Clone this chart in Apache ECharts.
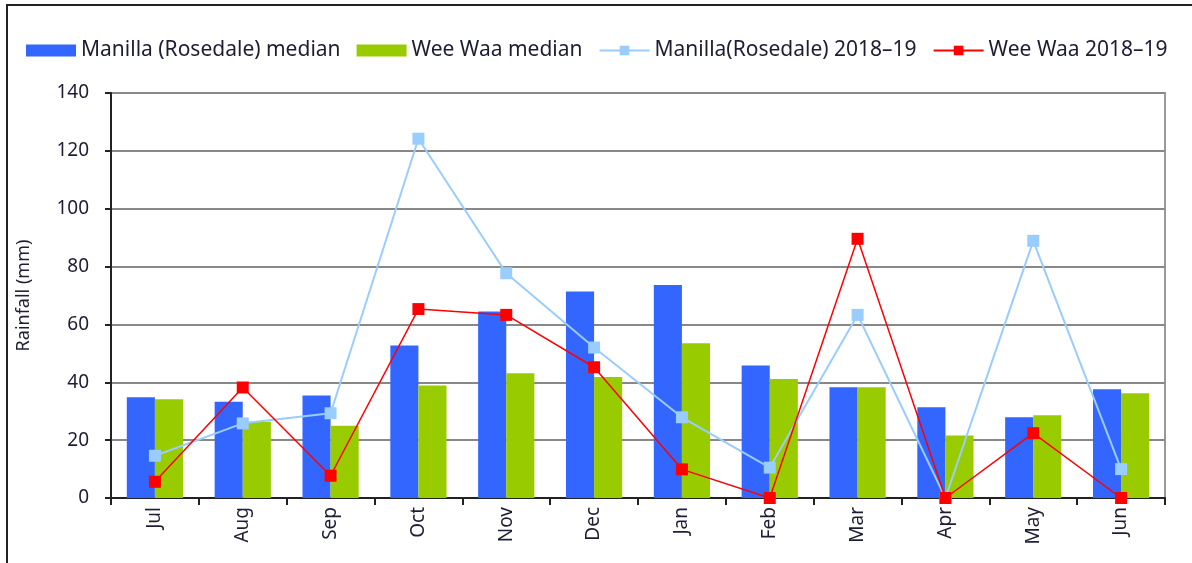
<!DOCTYPE html>
<html>
<head>
<meta charset="utf-8">
<script src="https://cdn.jsdelivr.net/npm/echarts@6/dist/echarts.min.js"></script>
<style>
  html, body { margin: 0; padding: 0; background: #fff; }
  #frame {
    position: absolute; left: 6px; top: 4px; width: 1200px; height: 600px;
    border-left: 2px solid #222; border-top: 2px solid #222;
  }
  #myChart { position: absolute; left: 0; top: 0; width: 1192px; height: 563px; }
</style>
</head>
<body>
<div id="frame"></div>
<div id="myChart"></div>
<script>
  // months of the season
  var months = ['Jul', 'Aug', 'Sep', 'Oct', 'Nov', 'Dec', 'Jan', 'Feb', 'Mar', 'Apr', 'May', 'Jun'];
  // long-term medians (mm)
  var manillaMedian = [34.8, 33.3, 35.4, 52.7, 64.5, 71.4, 73.6, 45.8, 38.3, 31.4, 27.9, 37.6];
  var weeWaaMedian = [34.1, 26.4, 25.0, 38.9, 43.1, 41.8, 53.5, 41.1, 38.3, 21.6, 28.6, 36.2];
  // 2018-19 season (mm)
  var manilla1819 = [14.6, 25.8, 29.3, 124.2, 77.7, 52.0, 27.9, 10.5, 63.3, 0, 88.9, 10.0];
  var weeWaa1819 = [5.6, 38.2, 7.7, 65.3, 63.3, 45.2, 9.9, 0, 89.6, 0, 22.4, 0];

  var font = 'Noto Sans';
  var textColor = '#1d1d33';

  var myChart = echarts.init(document.getElementById('myChart'));
  var option = {
    animation: false,
    textStyle: { fontFamily: font },
    legend: {
      left: 21,
      top: 35,
      itemWidth: 50,
      itemHeight: 12,
      itemGap: 16,
      textStyle: { fontSize: 21, color: textColor, fontFamily: font },
      data: [
        { name: 'Manilla (Rosedale) median', icon: 'rect' },
        { name: 'Wee Waa median', icon: 'rect' },
        { name: 'Manilla(Rosedale) 2018\u201319' },
        { name: 'Wee Waa 2018\u201319' }
      ]
    },
    grid: {
      left: 111,
      right: 27,
      top: 93,
      bottom: 65,
      show: true,
      borderColor: '#999',
      borderWidth: 2,
      containLabel: false
    },
    xAxis: {
      type: 'category',
      data: months,
      boundaryGap: true,
      axisLine: { lineStyle: { color: '#222', width: 2 } },
      axisTick: { show: true, length: 7, lineStyle: { color: '#222', width: 2 } },
      axisLabel: { rotate: 90, margin: 9, fontSize: 19, color: textColor, fontFamily: font },
      splitLine: { show: false }
    },
    yAxis: {
      type: 'value',
      min: 0,
      max: 140,
      interval: 20,
      name: 'Rainfall (mm)',
      nameLocation: 'middle',
      nameRotate: 90,
      nameGap: 78,
      nameTextStyle: { fontSize: 18, color: textColor, fontFamily: font },
      axisLine: { show: true, lineStyle: { color: '#222', width: 2 } },
      axisTick: { show: true, length: 6, lineStyle: { color: '#222', width: 2 } },
      axisLabel: { margin: 22, fontSize: 19, color: textColor, fontFamily: font },
      splitLine: { show: true, lineStyle: { color: '#888', width: 2 } }
    },
    series: [
      {
        name: 'Manilla (Rosedale) median',
        type: 'bar',
        data: manillaMedian,
        barGap: '0%',
        barCategoryGap: '36%',
        itemStyle: { color: '#3366FF' }
      },
      {
        name: 'Wee Waa median',
        type: 'bar',
        data: weeWaaMedian,
        barGap: '0%',
        barCategoryGap: '36%',
        itemStyle: { color: '#99CC00' }
      },
      {
        name: 'Manilla(Rosedale) 2018\u201319',
        type: 'line',
        data: manilla1819,
        symbol: 'rect',
        symbolSize: 12,
        lineStyle: { color: '#99CCFF', width: 2 },
        itemStyle: { color: '#99CCFF' },
        z: 3
      },
      {
        name: 'Wee Waa 2018\u201319',
        type: 'line',
        data: weeWaa1819,
        symbol: 'rect',
        symbolSize: 12,
        lineStyle: { color: '#FF0000', width: 1.5 },
        itemStyle: { color: '#FF0000' },
        z: 4
      }
    ]
  };
  myChart.setOption(option);
</script>
</body>
</html>
